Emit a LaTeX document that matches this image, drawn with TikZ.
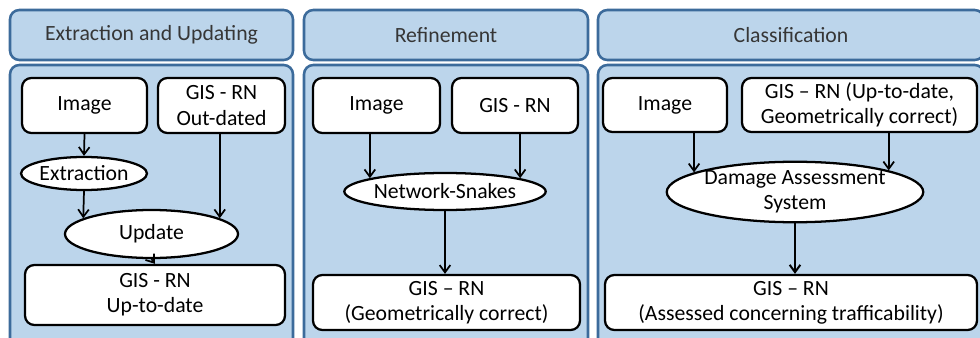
\documentclass[tikz,border=0pt]{standalone}
\usepackage{fontspec}
\setmainfont{Carlito}
\usetikzlibrary{shapes.geometric,arrows.meta}
\definecolor{panelfill}{HTML}{BCD5EB}
\definecolor{panelline}{HTML}{3C6B9B}
\definecolor{headtext}{HTML}{363636}
\tikzset{
  panel/.style={draw=panelline, fill=panelfill, line width=1.9pt, rounded corners=7pt, inner sep=0pt},
  headtxt/.style={text=headtext, font=\fontsize{16.3}{19}\selectfont},
  databox/.style={draw=black, fill=white, line width=1.7pt, rounded corners=7pt, inner sep=0pt,
    align=center, font=\fontsize{16.3}{19}\selectfont},
  proc/.style={ellipse, draw=black, fill=white, line width=1.7pt, inner sep=0pt,
    align=center, font=\fontsize{16.3}{19}\selectfont},
  arr/.style={line width=1.3pt, -{Straight Barb[length=5.5pt,width=8pt,line width=1.3pt]}},
  thickarr/.style={line width=2pt, -{Straight Barb[length=5.5pt,width=8pt,line width=1.5pt]}}
}
\begin{document}
\begin{tikzpicture}[x=0.75pt,y=-0.75pt]
\clip (0,0) rectangle (980,338);
\fill[white] (0,0) rectangle (980,338);

% column panels: header strip and body
\node[panel, minimum width=283*0.75pt, minimum height=50*0.75pt] (h1) at (151.5,35) {};
\node[headtxt] (h1t) at (151.5,35) {Extraction and Updating};
\node[panel, minimum width=283*0.75pt, minimum height=300*0.75pt] (b1) at (151.5,215) {};

\node[panel, minimum width=284*0.75pt, minimum height=50*0.75pt] (h2) at (446,35) {};
\node[headtxt] (h2t) at (446,35) {Refinement};
\node[panel, minimum width=284*0.75pt, minimum height=300*0.75pt] (b2) at (446,215) {};

\node[panel, minimum width=386*0.75pt, minimum height=50*0.75pt] (h3) at (791,35) {};
\node[headtxt] (h3t) at (791,35) {Classification};
\node[panel, minimum width=386*0.75pt, minimum height=300*0.75pt] (b3) at (791,215) {};

% column 1: extraction and updating
\node[databox, minimum width=125*0.75pt, minimum height=55*0.75pt] (img1) at (84.5,105.5) {Image};
\node[databox, minimum width=127*0.75pt, minimum height=55*0.75pt] (gis1) at (221.5,105.5) {GIS - RN\\Out-dated};
\node[proc, minimum width=126*0.75pt, minimum height=33*0.75pt] (ext1) at (84,173.5) {Extraction};
\node[proc, minimum width=173*0.75pt, minimum height=48*0.75pt] (upd1) at (151.5,234) {Update};
\node[databox, minimum width=260*0.75pt, minimum height=60*0.75pt] (out1) at (155,295) {GIS - RN\\Up-to-date};

\draw[arr] (img1.south) -- (ext1.north);
\draw[arr] (ext1.south) -- (upd1.167);
\draw[arr] (gis1.south -| upd1.13) -- (upd1.13);
\draw[arr] (upd1.south) -- (out1.north);

% column 2: refinement
\node[databox, minimum width=127*0.75pt, minimum height=55*0.75pt] (img2) at (376.5,105.5) {Image};
\node[databox, minimum width=126*0.75pt, minimum height=55*0.75pt] (gis2) at (515,105.5) {GIS - RN};
\node[proc, minimum width=180*0.75pt, minimum height=37*0.75pt] (snk2) at (445,191.5) {Network-Snakes};
\node[databox, minimum width=267*0.75pt, minimum height=55*0.75pt] (out2) at (446.5,302.5) {GIS – RN\\(Geometrically correct)};

\draw[arr] (img2.south -| snk2.170) -- (snk2.170);
\draw[arr] (gis2.south -| snk2.10) -- (snk2.10);
\draw[arr] (snk2.south) -- (snk2.south |- out2.north);

% column 3: classification
\node[databox, minimum width=124*0.75pt, minimum height=54*0.75pt] (img3) at (665,105) {Image};
\node[databox, minimum width=235*0.75pt, minimum height=54*0.75pt] (gis3) at (859.5,105) {GIS – RN (Up-to-date,\\Geometrically correct)};
\node[proc, minimum width=256*0.75pt, minimum height=60*0.75pt] (dmg3) at (795,192) {Damage Assessment\\System};
\node[databox, minimum width=372*0.75pt, minimum height=55*0.75pt] (out3) at (791,302.5) {GIS – RN\\(Assessed concerning trafficability)};

\draw[arr] (img3.south -| dmg3.169) -- (dmg3.169);
\draw[arr] (gis3.south -| dmg3.13) -- (dmg3.13);
\draw[thickarr] (dmg3.south) -- (dmg3.south |- out3.north);
\end{tikzpicture}
\end{document}
